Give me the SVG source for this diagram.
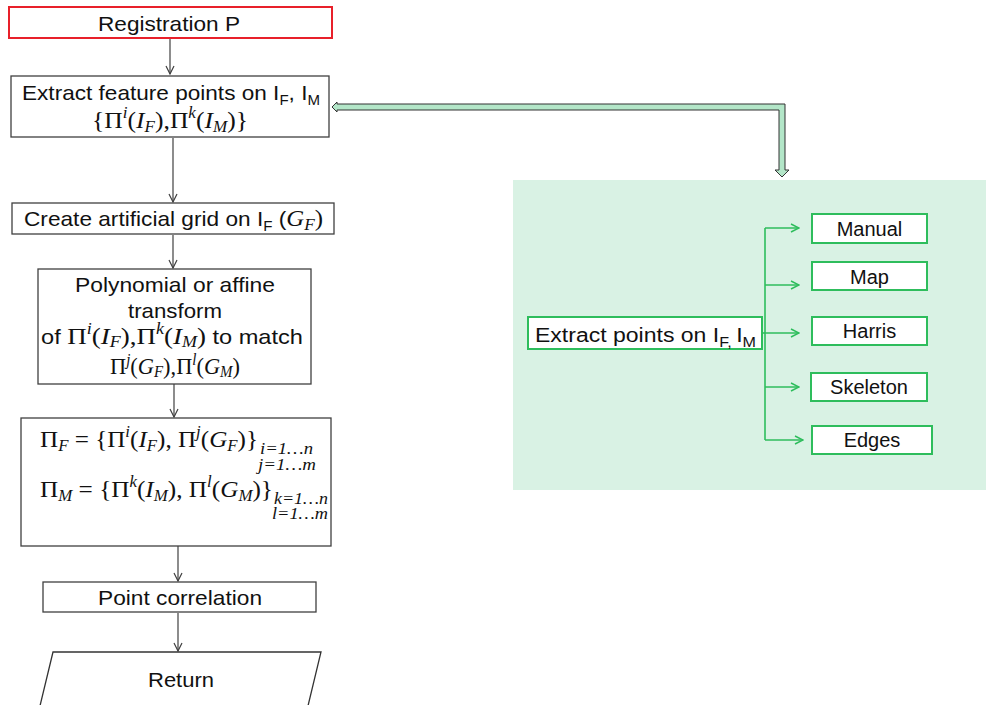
<svg xmlns="http://www.w3.org/2000/svg" width="986" height="705" viewBox="0 0 986 705">
<defs>
<style>
.t{font-family:"Liberation Sans",Arial,sans-serif;font-size:21px;fill:#111}
.g{font-family:"Liberation Sans",Arial,sans-serif;font-size:20px;fill:#111}
.m{font-family:"Liberation Serif","DejaVu Serif",serif;font-size:24px;fill:#111}
.s{font-family:"Liberation Serif","DejaVu Serif",serif;font-size:16px;font-style:italic;fill:#111}
.i{font-style:italic}
.box{fill:#fff;stroke:#404040;stroke-width:1.3}
.gbox{fill:#fff;stroke:#2ebd5c;stroke-width:2}
.con{fill:none;stroke:#404040;stroke-width:1.2}
.gcon{fill:none;stroke:#2ebd5c;stroke-width:1.6}
</style>
<marker id="ab" viewBox="0 0 10 10" refX="9" refY="5" markerWidth="10" markerHeight="10" markerUnits="userSpaceOnUse" orient="auto"><path d="M1,1 L9,5 L1,9" fill="none" stroke="#404040" stroke-width="1.2"/></marker>
<marker id="ag" viewBox="0 0 10 10" refX="9" refY="5" markerWidth="10" markerHeight="10" markerUnits="userSpaceOnUse" orient="auto"><path d="M1,1 L9,5 L1,9" fill="none" stroke="#2ebd5c" stroke-width="1.5"/></marker>
</defs>
<rect x="0" y="0" width="986" height="705" fill="#fff"/>
<rect id="panel" x="513" y="180" width="473" height="310" fill="#d9f2e4"/>

<g id="connectors">
<line class="con" x1="170" y1="39" x2="170" y2="74" marker-end="url(#ab)"/>
<line class="con" x1="173" y1="138" x2="173" y2="202" marker-end="url(#ab)"/>
<line class="con" x1="173" y1="235" x2="173" y2="268" marker-end="url(#ab)"/>
<line class="con" x1="174" y1="384" x2="174" y2="417" marker-end="url(#ab)"/>
<line class="con" x1="178" y1="546" x2="178" y2="581" marker-end="url(#ab)"/>
<line class="con" x1="178" y1="613" x2="178" y2="651" marker-end="url(#ab)"/>
<polygon points="332,107 337,102 337,104 785,104 785,170 789,170 782,177 775,170 779,170 779,110 337,110 337,112" fill="#b3e6c8" stroke="#333" stroke-width="1"/>
<line class="gcon" x1="765" y1="228" x2="765" y2="440"/>
<line class="gcon" x1="762" y1="333" x2="765" y2="333"/>
<line class="gcon" x1="765" y1="228" x2="799" y2="228" marker-end="url(#ag)"/>
<line class="gcon" x1="765" y1="285" x2="799" y2="285" marker-end="url(#ag)"/>
<line class="gcon" x1="765" y1="333" x2="799" y2="333" marker-end="url(#ag)"/>
<line class="gcon" x1="765" y1="387" x2="799" y2="387" marker-end="url(#ag)"/>
<line class="gcon" x1="765" y1="440" x2="803" y2="440" marker-end="url(#ag)"/>
</g>

<g id="registration">
<rect x="9" y="7" width="323" height="31" fill="#fff" stroke="#e8202a" stroke-width="2"/>
<text class="t" x="169" y="31" text-anchor="middle" textLength="142" lengthAdjust="spacingAndGlyphs">Registration P</text>
</g>

<g id="extract-feature">
<rect class="box" x="11" y="76" width="318" height="61"/>
<text class="t" x="171" y="100" text-anchor="middle" textLength="298" lengthAdjust="spacingAndGlyphs">Extract feature points on I<tspan dy="5" font-size="14">F</tspan><tspan dy="-5">, I</tspan><tspan dy="5" font-size="14">M</tspan></text>
<text class="m" x="170" y="128" text-anchor="middle" textLength="156" lengthAdjust="spacingAndGlyphs">{Π<tspan dy="-10" class="s">i</tspan><tspan dy="10">(</tspan><tspan class="i">I</tspan><tspan dy="4" class="s">F</tspan><tspan dy="-4">),Π</tspan><tspan dy="-10" class="s">k</tspan><tspan dy="10">(</tspan><tspan class="i">I</tspan><tspan dy="4" class="s">M</tspan><tspan dy="-4">)}</tspan></text>
</g>

<g id="create-grid">
<rect class="box" x="12" y="203" width="322" height="31"/>
<text class="t" x="173.5" y="226" text-anchor="middle" textLength="299" lengthAdjust="spacingAndGlyphs">Create artificial grid on I<tspan dy="5" font-size="14">F</tspan><tspan dy="-5"> (</tspan><tspan font-family="Liberation Serif, serif" class="i" font-size="23">G</tspan><tspan dy="4" font-size="16" font-family="Liberation Serif, serif" class="i">F</tspan><tspan dy="-4" font-family="Liberation Serif, serif" font-size="23">)</tspan></text>
</g>

<g id="transform">
<rect class="box" x="38" y="269" width="273" height="115"/>
<text class="t" x="175" y="292" text-anchor="middle" textLength="200" lengthAdjust="spacingAndGlyphs">Polynomial or affine</text>
<text class="t" x="175" y="318" text-anchor="middle" textLength="94" lengthAdjust="spacingAndGlyphs">transform</text>
<text class="t" x="172" y="344" text-anchor="middle" textLength="262" lengthAdjust="spacingAndGlyphs">of <tspan class="m">Π</tspan><tspan dy="-10" class="s">i</tspan><tspan dy="10" class="m">(</tspan><tspan class="m i">I</tspan><tspan dy="3" class="s">F</tspan><tspan dy="-3" class="m">),Π</tspan><tspan dy="-10" class="s">k</tspan><tspan dy="10" class="m">(</tspan><tspan class="m i">I</tspan><tspan dy="3" class="s">M</tspan><tspan dy="-3" class="m">)</tspan> to match</text>
<text class="m" x="175" y="374" text-anchor="middle" textLength="130" lengthAdjust="spacingAndGlyphs">Π<tspan dy="-9" class="s">j</tspan><tspan dy="9">(</tspan><tspan class="i">G</tspan><tspan dy="3" class="s">F</tspan><tspan dy="-3">),Π</tspan><tspan dy="-9" class="s">l</tspan><tspan dy="9">(</tspan><tspan class="i">G</tspan><tspan dy="3" class="s">M</tspan><tspan dy="-3">)</tspan></text>
</g>

<g id="sets">
<rect class="box" x="21" y="418" width="310" height="128"/>
<text class="m" x="40" y="447" textLength="218" lengthAdjust="spacingAndGlyphs">Π<tspan dy="4" class="s">F</tspan><tspan dy="-4"> = {Π</tspan><tspan dy="-10" class="s">i</tspan><tspan dy="10">(</tspan><tspan class="i">I</tspan><tspan dy="4" class="s">F</tspan><tspan dy="-4">), Π</tspan><tspan dy="-10" class="s">j</tspan><tspan dy="10">(</tspan><tspan class="i">G</tspan><tspan dy="4" class="s">F</tspan><tspan dy="-4">)}</tspan></text>
<text class="s" x="260" y="454" textLength="53" lengthAdjust="spacingAndGlyphs">i=1…n</text>
<text class="s" x="258" y="470" textLength="58" lengthAdjust="spacingAndGlyphs">j=1…m</text>
<text class="m" x="40" y="497" textLength="233" lengthAdjust="spacingAndGlyphs">Π<tspan dy="4" class="s">M</tspan><tspan dy="-4"> = {Π</tspan><tspan dy="-10" class="s">k</tspan><tspan dy="10">(</tspan><tspan class="i">I</tspan><tspan dy="4" class="s">M</tspan><tspan dy="-4">), Π</tspan><tspan dy="-10" class="s">l</tspan><tspan dy="10">(</tspan><tspan class="i">G</tspan><tspan dy="4" class="s">M</tspan><tspan dy="-4">)}</tspan></text>
<text class="s" x="274" y="504" textLength="54" lengthAdjust="spacingAndGlyphs">k=1…n</text>
<text class="s" x="272" y="519" textLength="56" lengthAdjust="spacingAndGlyphs">l=1…m</text>
</g>

<g id="point-correlation">
<rect class="box" x="43" y="582" width="273" height="30"/>
<text class="t" x="180" y="605" text-anchor="middle" textLength="164" lengthAdjust="spacingAndGlyphs">Point correlation</text>
</g>

<g id="return">
<polygon points="53,652 321,652 307,710 39,710" fill="#fff" stroke="#333" stroke-width="1.3"/>
<text class="t" x="181" y="687" text-anchor="middle" textLength="66" lengthAdjust="spacingAndGlyphs">Return</text>
</g>

<g id="extract-points">
<rect class="gbox" x="528" y="317" width="234" height="32"/>
<text class="g" x="645.5" y="342" text-anchor="middle" font-size="22" textLength="221" lengthAdjust="spacingAndGlyphs">Extract points on I<tspan dy="5" font-size="14">F</tspan><tspan font-size="14">, </tspan><tspan dy="-5">I</tspan><tspan dy="5" font-size="14">M</tspan></text>
</g>
<g id="manual">
<rect class="gbox" x="812" y="214" width="115" height="29"/>
<text class="g" x="869.5" y="236" text-anchor="middle">Manual</text>
</g>
<g id="map">
<rect class="gbox" x="812" y="262" width="115" height="28"/>
<text class="g" x="869.5" y="284" text-anchor="middle">Map</text>
</g>
<g id="harris">
<rect class="gbox" x="812" y="317" width="115" height="28"/>
<text class="g" x="869.5" y="338" text-anchor="middle">Harris</text>
</g>
<g id="skeleton">
<rect class="gbox" x="811" y="373" width="116" height="28"/>
<text class="g" x="869" y="394" text-anchor="middle">Skeleton</text>
</g>
<g id="edges">
<rect class="gbox" x="812" y="426" width="120" height="28"/>
<text class="g" x="872" y="447" text-anchor="middle">Edges</text>
</g>
</svg>
